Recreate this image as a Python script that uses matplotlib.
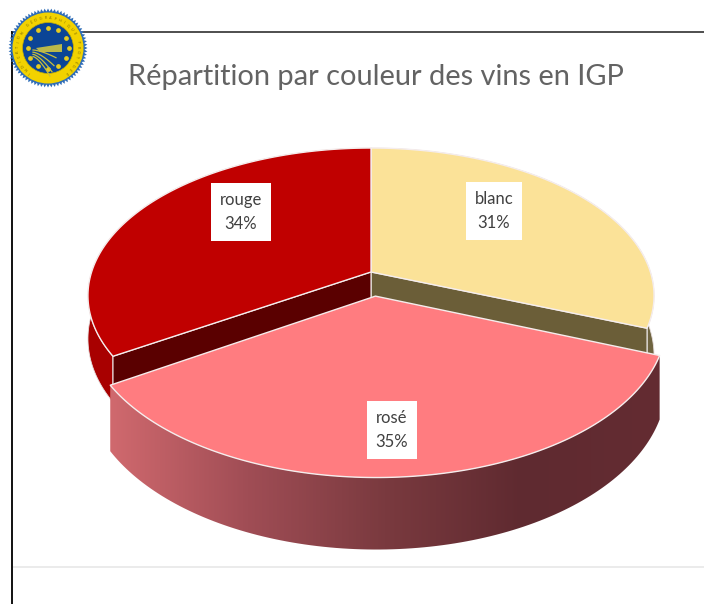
import numpy as np
import matplotlib
matplotlib.use("Agg")
import matplotlib.pyplot as plt
from matplotlib.patches import Polygon, Circle

# Donnees
couleurs = ["blanc", "rosé", "rouge"]
parts = [31, 35, 34]
titre = "Répartition par couleur des vins en IGP"

# Styles
col_dessus = ["#FBE298", "#FF7C80", "#C00000"]
col_interieur = ["#6B5E38", "#6B2C31", "#5A0000"]
col_exterieur = ["#6F6440", "#6B2C31", "#A80000"]
explosion = [0, 0.164, 0]
epaisseur = [58.6, 58.6, 42]
pos_etiquettes = [(494, 211), (392, 430), (241, 212)]

# Geometrie de la perspective (en pixels)
CX, CY = 371, 272
A, B, K = 279.4, 143.8, 0.16

plt.rcParams["font.family"] = ["Lato", "DejaVu Sans"]
fig = plt.figure(figsize=(7.04, 6.04), dpi=100)
ax = fig.add_axes([0, 0, 1, 1])


def proj(X, Y, ep=0):
    den = 1 + K * Y
    x = CX + A * X / den
    y = CY + (-B * Y + ep) / den
    return np.column_stack([x, y])


def tranche(debut, fin, exp):
    milieu = (debut + fin) / 2
    dx, dy = exp * np.sin(milieu), exp * np.cos(milieu)
    t = np.linspace(debut, fin, 120)
    return np.sin(t) + dx, np.cos(t) + dy, dx, dy


# Angles a partir des valeurs
cumul = np.cumsum([0] + parts) / sum(parts) * 2 * np.pi

# Parois d'abord, puis dessus; rose en dernier car il est devant
for i in [0, 2, 1]:
    X, Y, dx, dy = tranche(cumul[i], cumul[i + 1], explosion[i])
    haut = proj(X, Y)
    bas = proj(X, Y, epaisseur[i])
    paroi = np.vstack([haut, bas[::-1]])
    sommet = proj(np.array([dx]), np.array([dy]))
    if i == 1:
        # degrade sur la paroi du rose
        p = Polygon(paroi, closed=True, fc="none", ec="none")
        ax.add_patch(p)
        grad = matplotlib.colors.LinearSegmentedColormap.from_list(
            "g", ["#D0696E", "#A04D55", "#7A3A3F", "#5F2A30", "#642C32"])
        im = ax.imshow(np.linspace(0, 1, 256)[None, :], cmap=grad, aspect="auto",
                       extent=[paroi[:, 0].min(), paroi[:, 0].max(), paroi[:, 1].max(), paroi[:, 1].min()],
                       zorder=2)
        im.set_clip_path(p)
    else:
        ax.add_patch(Polygon(paroi, fc=col_exterieur[i], ec="#E8E0E0", lw=0.6, zorder=1))
        # paroi interieure le long du rayon
        sommet_b = proj(np.array([dx]), np.array([dy]), epaisseur[i])[0]
        bord = haut[-1] if i == 0 else haut[0]
        bord_b = bas[-1] if i == 0 else bas[0]
        ax.add_patch(Polygon([sommet[0], bord, bord_b, sommet_b], fc=col_interieur[i], ec="#F2EEEE", lw=0.8, zorder=1.5))
    z = 3 if i == 1 else 1.8
    ax.add_patch(Polygon(np.vstack([sommet, haut]), fc=col_dessus[i], ec="#F5EDED", lw=1.0, zorder=z, joinstyle="round"))

# Etiquettes
for nom, val, (x, y) in zip(couleurs, parts, pos_etiquettes):
    ax.text(x, y, f"{nom}\n{val}%", ha="center", va="center", fontsize=12, color="#404040", zorder=5,
            linespacing=1.55, bbox=dict(fc="white", ec="none", pad=6.5))

# Titre et cadre
ax.text(376, 77, titre, ha="center", va="center", fontsize=20.9, color="#636363")
ax.plot([12, 704], [32, 32], color="#404040", lw=1.3, zorder=6)
ax.plot([12, 12], [32, 604], color="#111111", lw=1.4, zorder=6)
ax.plot([13, 704], [567, 567], color="#E8E8E8", lw=1.2)

# Logo IGP
LX, LY = 48, 48
a = np.linspace(0, 2 * np.pi, 145)
r = np.where(np.arange(145) % 2 == 0, 39.5, 36.5)
ax.add_patch(Polygon(np.column_stack([LX + r * np.cos(a), LY + r * np.sin(a)]), fc="#2F6DB8", ec="none", zorder=7))
ax.add_patch(Circle((LX, LY), 35.5, fc="#F2D200", ec="none", zorder=8))
ax.add_patch(Circle((LX, LY), 25.5, fc="#0B4596", ec="#C9B000", lw=0.5, zorder=9))
for t in np.arange(12) * np.pi / 6:
    ax.plot(LX + 20.5 * np.sin(t), LY - 20.5 * np.cos(t), "o", ms=2.4, color="#E6CC20", zorder=10)
ax.add_patch(Polygon([(36, 48), (62, 44), (62, 52), (40, 52)], fc="#B9B84A", ec="none", zorder=10))
for k in range(4):
    t = np.linspace(33, 56 - k * 2, 20)
    ax.plot(t, 50 + k * 2.2 + (t - 33) ** 1.5 * 0.07 * (k + 1), color="#C8BE3C", lw=0.9, zorder=11)
texte_logo = "INDICATION GÉOGRAPHIQUE PROTÉGÉE"
for c, t in zip(texte_logo, np.linspace(-2.5, 2.5, len(texte_logo))):
    ax.text(LX + 30 * np.sin(t), LY - 30 * np.cos(t), c, fontsize=2.6, color="#7A6A00", ha="center", va="center",
            rotation=-np.degrees(t), zorder=11)

ax.set_xlim(0, 704)
ax.set_ylim(604, 0)
ax.axis("off")
fig.savefig("out.png", dpi=100, facecolor="white")
